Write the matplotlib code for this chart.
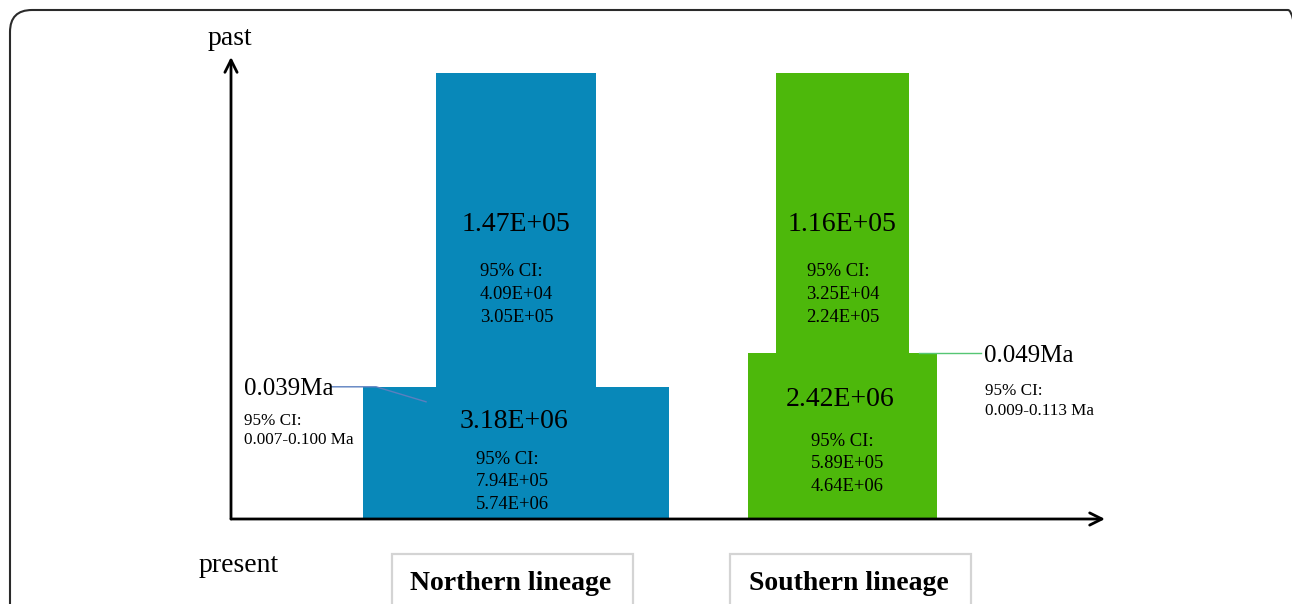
import numpy as np
import matplotlib.pyplot as plt
from matplotlib.patches import Rectangle, FancyBboxPatch
from matplotlib.transforms import IdentityTransform

plt.rcParams['font.family'] = ['Liberation Serif', 'DejaVu Serif']

# effective population sizes and divergence times per lineage
lineages = ["Northern lineage", "Southern lineage"]
ne_recent = [3.18e6, 2.42e6]
ne_recent_ci = [(7.94e5, 5.74e6), (5.89e5, 4.64e6)]
ne_ancient = [1.47e5, 1.16e5]
ne_ancient_ci = [(4.09e4, 3.05e5), (3.25e4, 2.24e5)]
split_time = [0.039, 0.049]          # Ma
split_ci = [(0.007, 0.100), (0.009, 0.113)]

colors = ["#0888b9", "#4db80b"]
link_colors = ["#5b7fbf", "#55c673"]

# layout (pixel-ish spacing converted to data units below)
W, H = 1292, 604
xlo, xhi = -0.873, 1.804
y_max = 0.1363
t_top = 0.1316
w_recent = [0.937, 0.576]
w_ancient = [0.490, 0.407]
dx = (xhi - xlo) / 874.0
dy = y_max / 462.0


def fmt(v):
    return "%.2E" % v


fig = plt.figure(figsize=(W / 100, H / 100), dpi=100)
ax = fig.add_axes([231 / W, 85 / H, 874 / W, 462 / H])
ax.set_xlim(xlo, xhi)
ax.set_ylim(0, y_max)
ax.axis('off')

xpos = np.arange(len(lineages))

# present-day (recent) and ancestral population blocks
ax.bar(xpos, split_time, width=w_recent, color=colors, linewidth=0, clip_on=False)
ax.bar(xpos, [t_top - t for t in split_time], bottom=split_time,
       width=w_ancient, color=colors, linewidth=0, clip_on=False)

# time axes
arrow = dict(arrowstyle='->', lw=2, color='black', shrinkA=0, shrinkB=0,
             mutation_scale=22)
ax.annotate('', xy=(0, 1), xytext=(0, 0), xycoords='axes fraction',
            arrowprops=arrow)
ax.annotate('', xy=(1, 0), xytext=(0, 0), xycoords='axes fraction',
            arrowprops=arrow)
ax.text(xlo - 1 * dx, y_max + 12 * dy, "past", ha='center', va='baseline',
        fontsize=20)
ax.text(xlo + 8 * dx, -53 * dy, "present", ha='center', va='baseline',
        fontsize=20)

# Ne labels inside the blocks
big_rise = [91, 113]
ci_rise = [55, 73]
ci_shift = [-40, -32]
for i, x in enumerate(xpos):
    ax.text(x, t_top - 158 * dy, fmt(ne_ancient[i]), ha='center',
            va='baseline', fontsize=20)
    lo, hi = ne_ancient_ci[i]
    for k, s in enumerate(["95% CI:", fmt(lo), fmt(hi)]):
        ax.text(x - 36 * dx, t_top - (203 + 23 * k) * dy, s, ha='left',
                va='baseline', fontsize=13.4)

    ax.text(x - 2 * dx, big_rise[i] * dy, fmt(ne_recent[i]), ha='center',
            va='baseline', fontsize=20)
    lo, hi = ne_recent_ci[i]
    for k, s in enumerate(["95% CI:", fmt(lo), fmt(hi)]):
        ax.text(x + ci_shift[i] * dx, (ci_rise[i] - 22.5 * k) * dy, s,
                ha='left', va='baseline', fontsize=13.4)

# divergence time labels with leader lines
# northern: label on the left of the block
t = split_time[0]
edge = xpos[0] - w_recent[0] / 2
ax.plot([edge - 32 * dx, edge + 13 * dx, edge + 63 * dx],
        [t, t, t - 15 * dy], color=link_colors[0], lw=1, clip_on=False)
ax.text(edge - 119 * dx, t - 8 * dy, "%.3fMa" % t, ha='left',
        va='baseline', fontsize=18)
lo, hi = split_ci[0]
ax.text(edge - 119 * dx, t - 38 * dy, "95% CI:", ha='left', va='baseline',
        fontsize=12.3)
ax.text(edge - 119 * dx, t - 57 * dy, "%.3f-%.3f Ma" % (lo, hi), ha='left',
        va='baseline', fontsize=12.3)

# southern: label on the right of the block
t = split_time[1]
edge = xpos[1] + w_recent[1] / 2
ax.plot([edge - 18 * dx, edge + 44 * dx], [t, t], color=link_colors[1],
        lw=1, clip_on=False)
ax.text(edge + 47 * dx, t - 9 * dy, "%.3fMa" % t, ha='left',
        va='baseline', fontsize=18)
lo, hi = split_ci[1]
ax.text(edge + 48 * dx, t - 42 * dy, "95% CI:", ha='left', va='baseline',
        fontsize=12.3)
ax.text(edge + 48 * dx, t - 62 * dy, "%.3f-%.3f Ma" % (lo, hi), ha='left',
        va='baseline', fontsize=12.3)

# lineage name boxes under the time axis
box_shift = [-3.5, 7.5]
for i, x in enumerate(xpos):
    cx = x + box_shift[i] * dx
    ax.add_patch(Rectangle((cx - 120.5 * dx, -110 * dy), 241 * dx, 75 * dy,
                           fill=False, edgecolor='#d4d4d4', lw=1.6,
                           clip_on=False))
    ax.text(cx - 1.5 * dx, -71 * dy, lineages[i], ha='center', va='baseline',
            fontsize=20, fontweight='bold')

# rounded outer frame, right and bottom sides run past the canvas
frame = FancyBboxPatch((10, -30), 1300, 624,
                       boxstyle='round,pad=0,rounding_size=22',
                       transform=IdentityTransform(), fill=False,
                       edgecolor='#2a2a2a', lw=1.5)
fig.add_artist(frame)

fig.savefig("out.png", dpi=100)
